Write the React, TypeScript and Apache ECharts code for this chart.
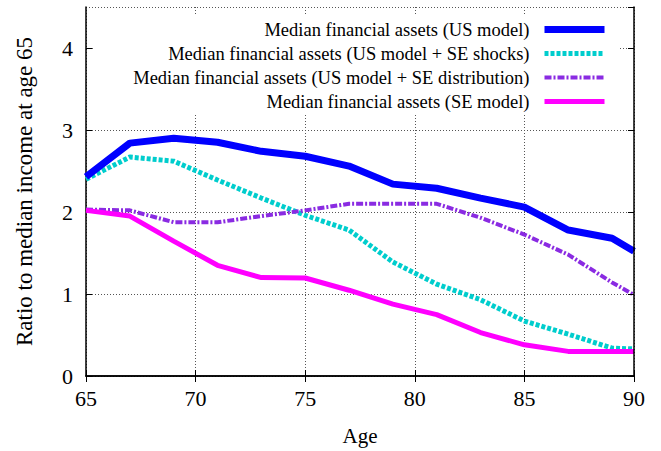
import React, { useEffect, useRef } from "react";
import * as echarts from "echarts";

const ages = [65, 67, 69, 71, 73, 75, 77, 79, 81, 83, 85, 87, 89, 90];
const usModel = [2.43, 2.84, 2.9, 2.85, 2.74, 2.68, 2.56, 2.34, 2.29, 2.17, 2.06, 1.78, 1.68, 1.52];
const usSeShocks = [2.4, 2.67, 2.62, 2.39, 2.17, 1.96, 1.78, 1.39, 1.12, 0.93, 0.67, 0.51, 0.34, 0.33];
const usSeDist = [2.03, 2.02, 1.875, 1.875, 1.95, 2.02, 2.1, 2.1, 2.1, 1.93, 1.725, 1.48, 1.14, 0.99];
const seModel = [2.02, 1.95, 1.645, 1.35, 1.2, 1.195, 1.046, 0.876, 0.748, 0.53, 0.38, 0.3, 0.3, 0.3];

const seriesNames = [
  "Median financial assets (US model)",
  "Median financial assets (US model + SE shocks)",
  "Median financial assets (US model + SE distribution)",
  "Median financial assets (SE model)",
];

const FONT = "Liberation Serif";

export default function App() {
  const ref = useRef<HTMLDivElement>(null);
  useEffect(() => {
    if (!ref.current) return;
    const chart = echarts.init(ref.current, undefined, { renderer: "svg" });
    const pair = (vals: number[]) => ages.map((a, i) => [a, vals[i]]);
    const gridLeft = 86, gridRight = 27, gridTop = 7, gridBottom = 72;
    const axisBase = {
      axisLine: { show: true, lineStyle: { color: "#000", width: 1.5 } },
      axisTick: { show: true, inside: true, length: 6, lineStyle: { color: "#000", width: 1 } },
    };
    const lineWidths = [7, 5, 4, 5];
    chart.setOption({
      animation: false,
      grid: { left: gridLeft, right: gridRight, top: gridTop, bottom: gridBottom, show: false },
      xAxis: [
        {
          ...axisBase,
          type: "value",
          min: 65,
          max: 90,
          interval: 5,
          position: "bottom",
          z: 0,
          name: "Age",
          nameLocation: "middle",
          nameGap: 49,
          nameTextStyle: { fontFamily: FONT, fontSize: 21, color: "#000" },
          axisLabel: { fontFamily: FONT, fontSize: 22, color: "#000", margin: 11 },
          splitLine: { show: true, lineStyle: { color: "#555", type: [1, 2], width: 1 } },
        },
        {
          ...axisBase,
          type: "value",
          min: 65,
          max: 90,
          interval: 5,
          position: "top",
          z: 5,
          axisLabel: { show: false },
          splitLine: { show: false },
        },
      ],
      yAxis: [
        {
          ...axisBase,
          type: "value",
          min: 0,
          max: 4.5,
          interval: 1,
          position: "left",
          z: 0,
          name: "Ratio to median income at age 65",
          nameLocation: "middle",
          nameGap: 50,
          nameTextStyle: { fontFamily: FONT, fontSize: 23, color: "#000" },
          axisLabel: {
            fontFamily: FONT,
            fontSize: 22,
            color: "#000",
            margin: 13,
            showMaxLabel: false,
          },
          splitLine: { show: true, lineStyle: { color: "#555", type: [1, 2], width: 1 } },
        },
        {
          ...axisBase,
          type: "value",
          min: 0,
          max: 4.5,
          interval: 1,
          position: "right",
          z: 5,
          axisLabel: { show: false },
          splitLine: { show: false },
        },
      ],
      graphic: {
        elements: [
          {
            type: "rect",
            z: 1,
            shape: { x: 93, y: 14, width: 527, height: 99 },
            style: { fill: "#fff" },
            silent: true,
          },
        ],
      },
      legend: {
        orient: "vertical",
        align: "right",
        right: 53,
        top: 20,
        padding: 0,
        itemWidth: 60,
        itemHeight: 10,
        itemGap: 5,
        itemStyle: { opacity: 0, borderWidth: 0 },
        textStyle: {
          fontFamily: FONT,
          fontSize: 18.5,
          color: "#000",
          lineHeight: 19,
          padding: [0, 10, 0, 0],
        },
        data: seriesNames.map((n, i) => ({ name: n, lineStyle: { width: lineWidths[i] } })),
      },
      series: [
        {
          name: seriesNames[0],
          type: "line",
          data: pair(usModel),
          symbol: "none",
          z: 4,
          lineStyle: { color: "#0000ff", width: lineWidths[0] },
          itemStyle: { color: "#0000ff" },
        },
        {
          name: seriesNames[1],
          type: "line",
          data: pair(usSeShocks),
          symbol: "none",
          z: 3,
          lineStyle: { color: "#00cdcd", width: lineWidths[1], type: [4, 2] },
          itemStyle: { color: "#00cdcd" },
        },
        {
          name: seriesNames[2],
          type: "line",
          data: pair(usSeDist),
          symbol: "none",
          z: 3,
          lineStyle: { color: "#8a2be2", width: lineWidths[2], type: [7, 2, 2, 2] },
          itemStyle: { color: "#8a2be2" },
        },
        {
          name: seriesNames[3],
          type: "line",
          data: pair(seModel),
          symbol: "none",
          z: 3,
          lineStyle: { color: "#ff00ff", width: lineWidths[3] },
          itemStyle: { color: "#ff00ff" },
        },
      ],
    });
    return () => chart.dispose();
  }, []);
  return (
    <div
      ref={ref}
      style={{ position: "fixed", left: 0, top: 0, width: 661, height: 451, background: "#fff" }}
    />
  );
}
